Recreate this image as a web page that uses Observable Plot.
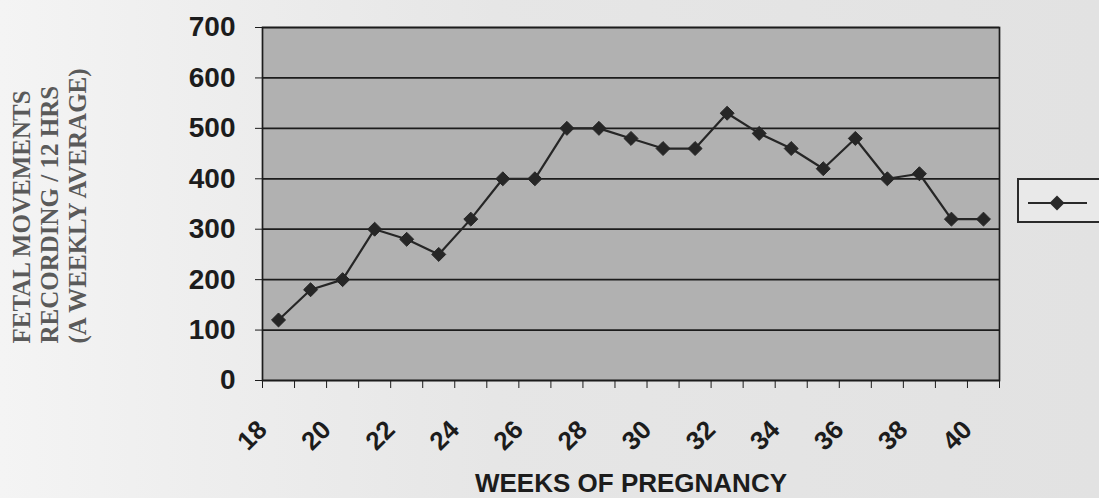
<!DOCTYPE html>
<html>
<head>
<meta charset="utf-8">
<script src="https://cdn.jsdelivr.net/npm/d3@7"></script>
<script src="https://cdn.jsdelivr.net/npm/@observablehq/plot@0.6"></script>
<style>
  html, body { margin: 0; padding: 0; width: 1099px; height: 498px; overflow: hidden; }
  body { background: linear-gradient(to right, #f4f4f4 0%, #eeeeee 18%, #e6e6e6 45%, #e2e2e2 100%); position: relative; font-family: "Liberation Sans", Arial, sans-serif; }
  #chart { position: absolute; left: 0; top: 0; }
  #legend { position: absolute; left: 1017px; top: 178px; width: 100px; height: 45px; border: 2px solid #2a2a2a; background: #e9e9e9; box-sizing: border-box; }
</style>
</head>
<body>
<div id="chart"></div>
<div id="legend"><svg width="100" height="41"><line x1="9" x2="68" y1="23" y2="23" stroke="#2a2a2a" stroke-width="2"/><path d="M38,15.5 L45.5,23 L38,30.5 L30.5,23 Z" fill="#2a2a2a"/></svg></div>
<script>
const weeks = [18, 19, 20, 21, 22, 23, 24, 25, 26, 27, 28, 29, 30, 31, 32, 33, 34, 35, 36, 37, 38, 39, 40];
const movements = [120, 180, 200, 300, 280, 250, 320, 400, 400, 500, 500, 480, 460, 460, 530, 490, 460, 420, 480, 400, 410, 320, 320];
const yTicks = [0, 100, 200, 300, 400, 500, 600, 700];
const xTickLabels = [18, 20, 22, 24, 26, 28, 30, 32, 34, 36, 38, 40];
const yTitleLines = ["FETAL MOVEMENTS", "RECORDING / 12 HRS", "(A WEEKLY AVERAGE)"];
const xTitle = "WEEKS OF PREGNANCY";

const data = weeks.map((w, i) => ({week: w, value: movements[i]}));
const boundaries = weeks.map(w => w - 0.5).concat([weeks[weeks.length - 1] + 0.5]);
const ink = "#1c1c1c";

const chart = Plot.plot({
  width: 1099,
  height: 498,
  marginLeft: 262,
  marginRight: 100,
  marginTop: 27,
  marginBottom: 118,
  x: {domain: [weeks[0] - 0.5, weeks[weeks.length - 1] + 0.5]},
  y: {domain: [0, 700]},
  style: {background: "transparent", fontFamily: "'Liberation Sans', Arial, sans-serif", overflow: "visible"},
  marks: [
    Plot.frame({fill: "#b1b1b1"}),
    Plot.gridY(yTicks, {stroke: ink, strokeOpacity: 1, strokeWidth: 1.7}),
    Plot.frame({stroke: ink, strokeWidth: 1.7}),
    Plot.axisY(yTicks, {tickSize: 7, tickPadding: 20, fontSize: 28, fontWeight: "bold", color: ink, label: null}),
    Plot.axisX(boundaries, {tickSize: 8, tickFormat: () => "", color: ink, label: null}),
    Plot.text(xTickLabels, {x: d => d, text: d => String(d), frameAnchor: "bottom", rotate: -45, textAnchor: "end", lineAnchor: "middle", dx: -16, dy: 45, fontSize: 26, fontWeight: "bold", fill: ink}),
    Plot.line(data, {x: "week", y: "value", stroke: "#262626", strokeWidth: 2.2}),
    Plot.dot(data, {x: "week", y: "value", symbol: "diamond2", r: 6.3, fill: "#262626", stroke: "#262626", strokeWidth: 1}),
    Plot.text([xTitle], {frameAnchor: "bottom", dy: 111, fontSize: 26, fontWeight: "bold", fill: ink}),
    Plot.text([yTitleLines.join("\n")], {frameAnchor: "bottom-left", rotate: -90, textAnchor: "start", lineAnchor: "top", dx: -253, dy: -37, fontFamily: "'Liberation Serif', 'Times New Roman', serif", fontSize: 25, fontWeight: "bold", fill: "#5a5a5a", lineHeight: 1.13})
  ]
});
document.getElementById("chart").appendChild(chart);
</script>
</body>
</html>
